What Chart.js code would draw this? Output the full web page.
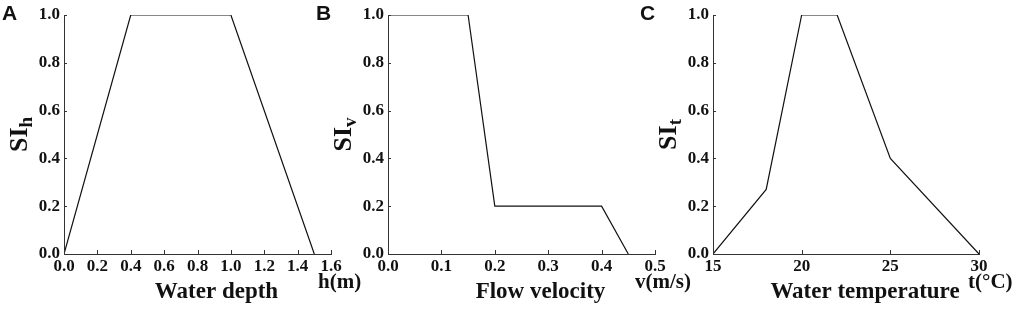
<!DOCTYPE html>
<html>
<head>
<meta charset="utf-8">
<script src="https://cdn.jsdelivr.net/npm/chart.js@4.4.1/dist/chart.umd.min.js"></script>
<style>
  html, body { margin: 0; padding: 0; background: #fff; }
  #wrap { position: relative; width: 1017px; height: 314px; }
  canvas { position: absolute; left: 0; top: 0; }
</style>
</head>
<body>
<div id="wrap">
  <canvas id="cA" width="1017" height="314"></canvas>
  <canvas id="cB" width="1017" height="314"></canvas>
  <canvas id="cC" width="1017" height="314"></canvas>
</div>
<script>
// ---- Data ----
const depthX = [0, 0.4, 1.0, 1.5];
const depthSI = [0, 1, 1, 0];
const velocityX = [0, 0.15, 0.2, 0.4, 0.45];
const velocitySI = [1, 1, 0.2, 0.2, 0];
const tempX = [15, 18, 20, 22, 25, 30];
const tempSI = [0, 0.27, 1, 1, 0.4, 0];

const depthTicks = ['0.0','0.2','0.4','0.6','0.8','1.0','1.2','1.4','1.6'];
const velocityTicks = ['0.0','0.1','0.2','0.3','0.4','0.5'];
const tempTicks = ['15','20','25','30'];
const siTicks = ['0.0','0.2','0.4','0.6','0.8','1.0'];

const panelLetters = ['A', 'B', 'C'];
const xTitles = ['Water depth', 'Flow velocity', 'Water temperature'];
const xUnits = ['h(m)', 'v(m/s)', 't(\u00B0C)'];
const ySubs = ['h', 'v', 't'];

const SERIF = '"Liberation Serif", "Times New Roman", serif';
const SANS = '"Liberation Sans", Arial, sans-serif';
const INK = '#111';

function pts(xs, ys) { return xs.map((x, i) => ({ x: x, y: ys[i] })); }

const decorPlugin = {
  id: 'decor',
  afterDraw(chart) {
    const o = chart.options.plugins.decor;
    const ctx = chart.ctx;
    const xs = chart.scales.x, ys = chart.scales.y;
    const ca = chart.chartArea;
    ctx.save();
    // inward ticks
    ctx.strokeStyle = '#333';
    ctx.lineWidth = 1;
    ctx.beginPath();
    xs.ticks.forEach(t => {
      const px = Math.round(xs.getPixelForValue(t.value)) + 0.5;
      ctx.moveTo(px, ca.bottom);
      ctx.lineTo(px, ca.bottom - 4);
    });
    ys.ticks.forEach(t => {
      const py = Math.round(ys.getPixelForValue(t.value)) + 0.5;
      ctx.moveTo(ca.left, py);
      ctx.lineTo(ca.left + 3, py);
    });
    ctx.stroke();

    ctx.fillStyle = INK;
    // panel letter
    ctx.font = 'bold 21px ' + SANS;
    ctx.textAlign = 'left';
    ctx.textBaseline = 'alphabetic';
    ctx.fillText(o.letter, o.letterX, 20);

    // x title
    ctx.font = 'bold 23px ' + SERIF;
    ctx.textAlign = 'center';
    ctx.fillText(o.title, (ca.left + ca.right) / 2 + 19, 298);

    // unit label
    ctx.font = 'bold 21px ' + SERIF;
    ctx.textAlign = 'left';
    ctx.fillText(o.unit, o.unitX, 288);

    // y title rotated with subscript
    const cy = (ca.top + ca.bottom) / 2;
    ctx.translate(o.yTitleX, cy);
    ctx.rotate(-Math.PI / 2);
    ctx.font = 'bold 26px ' + SERIF;
    const w1 = ctx.measureText('SI').width;
    ctx.font = 'bold 19px ' + SERIF;
    const w2 = ctx.measureText(o.sub).width;
    const total = w1 + w2;
    ctx.textAlign = 'left';
    ctx.font = 'bold 26px ' + SERIF;
    ctx.fillText('SI', -total / 2, 0);
    ctx.font = 'bold 19px ' + SERIF;
    ctx.fillText(o.sub, -total / 2 + w1, 5);
    ctx.restore();
  }
};

function makeChart(id, data, xMin, xMax, xStep, xLabels, plotLeft, plotRight, decor) {
  const Y_W = 64;
  return new Chart(document.getElementById(id), {
    type: 'line',
    data: {
      datasets: [{
        data: data,
        borderColor: INK,
        borderWidth: 1.2,
        pointRadius: 0,
        tension: 0,
        fill: false
      }]
    },
    options: {
      responsive: false,
      animation: false,
      devicePixelRatio: 1,
      layout: {
        autoPadding: false,
        padding: { left: plotLeft - Y_W, right: 1017 - plotRight, top: 15, bottom: 0 }
      },
      plugins: {
        legend: { display: false },
        tooltip: { enabled: false },
        decor: decor
      },
      scales: {
        x: {
          type: 'linear',
          min: xMin, max: xMax,
          grid: { display: false, drawTicks: false },
          border: { display: true, color: '#333', width: 1 },
          afterFit(s) { s.height = 314 - 15 - 239; },
          afterBuildTicks(s) {
            s.ticks = xLabels.map((l, i) => ({ value: xMin + i * xStep }));
          },
          ticks: {
            padding: 2,
            color: INK,
            maxRotation: 0,
            autoSkip: false,
            font: { family: SERIF, size: 17, weight: 'bold' },
            callback: (v, i) => xLabels[i]
          }
        },
        y: {
          type: 'linear',
          min: 0, max: 1,
          grid: { display: false, drawTicks: false },
          border: { display: true, color: '#333', width: 1 },
          afterFit(s) { s.width = Y_W; },
          afterBuildTicks(s) {
            s.ticks = siTicks.map((l, i) => ({ value: i * 0.2 }));
          },
          ticks: {
            padding: 4,
            color: INK,
            autoSkip: false,
            font: { family: SERIF, size: 17, weight: 'bold' },
            callback: (v, i) => siTicks[i]
          }
        }
      }
    },
    plugins: [decorPlugin]
  });
}

makeChart('cA', pts(depthX, depthSI), 0, 1.6, 0.2, depthTicks, 64, 331,
  { letter: panelLetters[0], letterX: 2, title: xTitles[0], unit: xUnits[0], unitX: 318, yTitleX: 27, sub: ySubs[0] });
makeChart('cB', pts(velocityX, velocitySI), 0, 0.5, 0.1, velocityTicks, 388, 655,
  { letter: panelLetters[1], letterX: 316, title: xTitles[1], unit: xUnits[1], unitX: 635, yTitleX: 351, sub: ySubs[1] });
makeChart('cC', pts(tempX, tempSI), 15, 30, 5, tempTicks, 713, 979,
  { letter: panelLetters[2], letterX: 640, title: xTitles[2], unit: xUnits[2], unitX: 968, yTitleX: 676, sub: ySubs[2] });
</script>
</body>
</html>
